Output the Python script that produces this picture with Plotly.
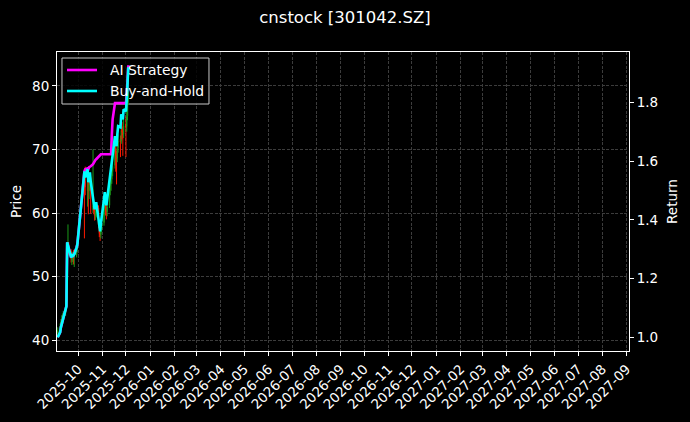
import pandas as pd
import plotly.graph_objects as go

# ---------------- data ----------------
dates = [
    "2025-09-05", "2025-09-08", "2025-09-09", "2025-09-10", "2025-09-11", "2025-09-12",
    "2025-09-15", "2025-09-16", "2025-09-17", "2025-09-18", "2025-09-19", "2025-09-22",
    "2025-09-23", "2025-09-24", "2025-09-25", "2025-09-26", "2025-09-29", "2025-09-30",
    "2025-10-09", "2025-10-10", "2025-10-13", "2025-10-14", "2025-10-15", "2025-10-16",
    "2025-10-17", "2025-10-20", "2025-10-21", "2025-10-22", "2025-10-23", "2025-10-24",
    "2025-10-27", "2025-10-28", "2025-10-29", "2025-10-30", "2025-10-31",
    "2025-11-03", "2025-11-04", "2025-11-05", "2025-11-06", "2025-11-07", "2025-11-10",
    "2025-11-11", "2025-11-12", "2025-11-13", "2025-11-14", "2025-11-17", "2025-11-18",
    "2025-11-19", "2025-11-20", "2025-11-21", "2025-11-24", "2025-11-25", "2025-11-26",
    "2025-11-27", "2025-11-28", "2025-12-01", "2025-12-02", "2025-12-03", "2025-12-04",
]

opens = [
    41.0, 41.6, 42.3, 43.0, 43.4, 43.9, 44.2, 47.5, 46.5, 53.9, 54.6, 54.0,
    52.6, 53.0, 53.6, 52.9, 53.4, 54.3,
    65.6, 65.0, 63.5, 65.5, 63.5, 64.2, 64.8, 60.5, 61.0, 60.5, 59.5, 60.0,
    60.8, 58.0, 56.9, 56.6, 57.5,
    58.5, 61.2, 62.0, 61.0, 60.2, 61.2, 63.6, 64.6, 65.3, 66.5, 67.5, 70.2,
    69.2, 68.6, 70.3, 71.6, 71.3, 73.2, 72.8, 72.4,
    74.0, 73.6, 75.3, 77.5,
]
highs = [
    42.0, 42.6, 43.3, 43.9, 44.2, 44.6, 45.6, 47.9, 55.0, 58.2, 55.4, 54.3,
    53.8, 53.9, 54.2, 53.8, 54.6, 55.5,
    66.5, 67.3, 66.2, 66.8, 65.0, 66.4, 65.6, 70.0, 61.5, 61.0, 61.2, 61.6,
    61.2, 58.5, 57.6, 58.2, 59.2,
    61.5, 62.8, 62.4, 61.6, 61.8, 64.2, 65.3, 66.0, 67.5, 68.8, 71.0, 70.8,
    69.8, 71.2, 72.4, 72.2, 74.0, 74.3, 73.6, 74.8,
    75.2, 76.0, 78.5, 83.2,
]
lows = [
    40.4, 41.2, 42.0, 42.6, 43.0, 43.3, 43.8, 44.7, 46.2, 53.2, 53.4, 52.2,
    51.8, 52.3, 51.9, 51.5, 53.0, 53.8,
    56.0, 62.8, 61.0, 59.8, 62.2, 63.6, 59.9, 60.0, 59.8, 58.8, 58.9, 59.3,
    57.6, 56.2, 55.6, 56.0, 57.0,
    58.0, 60.4, 59.6, 59.0, 59.5, 60.8, 62.8, 63.5, 64.6, 65.8, 67.0, 66.5,
    64.5, 68.0, 69.5, 68.8, 70.9, 71.6, 69.0, 71.8,
    68.8, 72.8, 74.6, 77.0,
]
closes = [
    41.50, 42.21, 42.91, 43.34, 43.76, 44.04, 45.17, 45.88, 54.92, 54.50, 54.07, 52.80,
    52.94, 53.23, 53.09, 53.23, 54.21, 54.64,
    64.95, 64.10, 65.24, 63.40, 64.38, 64.81, 63.54, 61.14, 60.29, 59.58, 60.15, 60.58,
    58.17, 56.76, 56.48, 57.61, 58.31,
    61.00, 61.99, 61.00, 60.15, 61.00, 63.54, 64.53, 65.24, 66.23, 67.36, 69.90, 69.05,
    68.48, 70.18, 71.31, 71.17, 73.01, 72.72, 72.29, 73.70,
    73.42, 75.12, 77.23, 79.64,
]
ai_return = [
    1.000, 1.017, 1.034, 1.044, 1.054, 1.061, 1.088, 1.106, 1.323, 1.313, 1.303, 1.272,
    1.276, 1.283, 1.279, 1.283, 1.306, 1.317,
    1.565, 1.572, 1.575, 1.572, 1.579, 1.582, 1.582, 1.589, 1.596, 1.599, 1.603, 1.606,
    1.616, 1.620, 1.623, 1.623, 1.623,
    1.623, 1.623, 1.623, 1.623, 1.623, 1.623, 1.623, 1.623, 1.691, 1.742, 1.797, 1.797,
    1.797, 1.797, 1.797, 1.797, 1.797, 1.797, 1.797, 1.797,
    1.797, 1.827, 1.878, 1.926,
]
# buy-and-hold return relative to the first close
bh_return = [c / closes[0] for c in closes]

series_names = ["AI Strategy", "Buy-and-Hold"]
series_colors = ["#ff00ff", "#00ffff"]
title_text = "cnstock [301042.SZ]"

x_range = ["2025-09-04", "2027-09-04"]
price_range = [38.27, 85.35]
return_range = [0.9534, 1.971]

FONT = "DejaVu Sans"
GRID = "#3c3c3c"

fig = go.Figure()

fig.add_trace(go.Candlestick(
    x=dates, open=opens, high=highs, low=lows, close=closes,
    increasing=dict(line=dict(color="#1a9a1a", width=1), fillcolor="#1a9a1a"),
    decreasing=dict(line=dict(color="#ff1a00", width=1), fillcolor="#ff1a00"),
    whiskerwidth=0, showlegend=False, yaxis="y", hoverinfo="skip",
))
fig.add_trace(go.Scatter(
    x=dates, y=ai_return, yaxis="y2", mode="lines", name=series_names[0],
    line=dict(color=series_colors[0], width=2.6), showlegend=False,
))
fig.add_trace(go.Scatter(
    x=dates, y=bh_return, yaxis="y2", mode="lines", name=series_names[1],
    line=dict(color=series_colors[1], width=2.6), showlegend=False,
))

# ---- legend box drawn under the return lines (as in the reference) ----
t0 = pd.Timestamp(x_range[0])
span = pd.Timestamp(x_range[1]) - t0


def fx(frac):
    return (t0 + span * frac).strftime("%Y-%m-%d %H:%M:%S")


def fy(frac):
    return price_range[0] + (price_range[1] - price_range[0]) * frac


bx0, bx1, by0, by1 = 0.0087, 0.2657, 0.8261, 0.9799
shapes = [
    dict(type="rect", xref="x", yref="y",
         x0=fx(bx0), x1=fx(bx1), y0=fy(by0), y1=fy(by1),
         fillcolor="rgba(0,0,0,0.85)", line=dict(color="#c8c8c8", width=1),
         layer="between"),
]
legend_rows = [0.9398, 0.8696]
annotations = []
for name, color, yy in zip(series_names, series_colors, legend_rows):
    shapes.append(dict(type="line", xref="x", yref="y",
                       x0=fx(0.0175), x1=fx(0.0699), y0=fy(yy), y1=fy(yy),
                       line=dict(color=color, width=2.6), layer="between"))
    annotations.append(dict(text=name, xref="paper", yref="paper",
                            x=0.0892, y=yy, xanchor="left", yanchor="middle",
                            showarrow=False, font=dict(family=FONT, size=13.9, color="white")))

fig.update_layout(
    width=690, height=422,
    paper_bgcolor="#000000", plot_bgcolor="#000000",
    font=dict(family=FONT, size=13.5, color="white"),
    margin=dict(l=57, r=61, t=52, b=71, autoexpand=False),
    showlegend=False,
    title=dict(text=title_text, x=0.5, xanchor="center", xref="container",
               y=1 - 17 / 422, yanchor="middle", yref="container",
               font=dict(family=FONT, size=16.5, color="white")),
    shapes=shapes,
    annotations=annotations,
    xaxis=dict(
        type="date", range=x_range, tick0="2025-10-01", dtick="M1",
        tickformat="%Y-%m", tickangle=-45,
        ticks="outside", ticklen=4, tickcolor="white", tickwidth=1,
        showline=True, linecolor="white", linewidth=1, mirror=True,
        showgrid=True, gridcolor=GRID, griddash="3px,1.5px", gridwidth=0.7,
        zeroline=False, rangeslider=dict(visible=False),
        tickfont=dict(size=13.5),
    ),
    yaxis=dict(
        range=price_range, tick0=0, dtick=10,
        ticks="outside", ticklen=4, tickcolor="white", tickwidth=1,
        showline=True, linecolor="white", linewidth=1, mirror=True,
        showgrid=True, gridcolor=GRID, griddash="3px,1.5px", gridwidth=0.7,
        zeroline=False,
        title=dict(text="Price", standoff=7, font=dict(size=13.5)),
    ),
    yaxis2=dict(
        range=return_range, tick0=1.0, dtick=0.2, tickformat=".1f",
        overlaying="y", side="right",
        ticks="outside", ticklen=4, tickcolor="white", tickwidth=1,
        showline=True, linecolor="white", linewidth=1,
        showgrid=False, zeroline=False,
        title=dict(text="Return", standoff=10, font=dict(size=13.5)),
    ),
)

fig.write_html(
    "out.html",
    config={"displayModeBar": False},
    post_script="document.body.style.margin='0';document.body.style.background='#000000';",
)
